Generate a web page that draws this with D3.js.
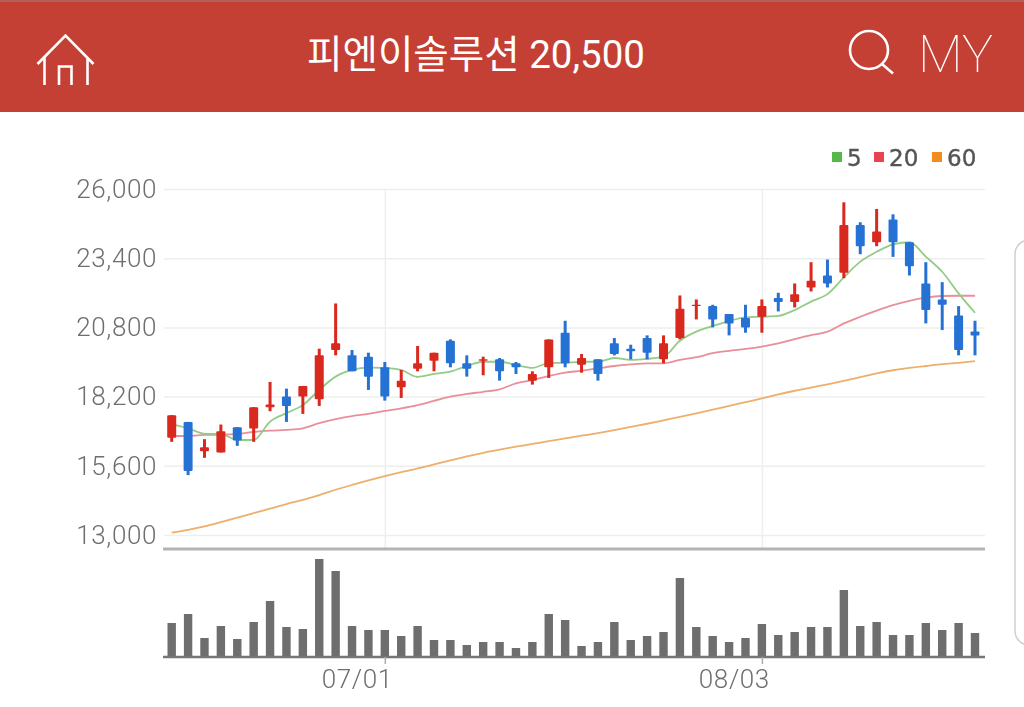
<!DOCTYPE html>
<html>
<head>
<meta charset="utf-8">
<title>피엔이솔루션 20,500</title>
<script src="https://cdn.jsdelivr.net/npm/d3@7"></script>
<style>
  html, body { margin: 0; padding: 0; background: #fff; overflow: hidden; }
  svg { display: block; filter: blur(0.4px); }
  .price text, .dates text { font-family: Roboto, sans-serif; font-weight: 300; font-size: 26px; letter-spacing: 0.6px; fill: #6e6e6e; }
</style>
</head>
<body>
<svg id="chart" width="1024" height="707"></svg>
<script>
var stockName = "피엔이솔루션";
var lastPrice = "20,500";

var dates = ["06/12","06/15","06/16","06/17","06/18","06/19","06/22","06/23","06/24","06/25",
  "06/26","06/29","06/30","07/01","07/02","07/03","07/06","07/07","07/08","07/09",
  "07/10","07/13","07/14","07/15","07/16","07/17","07/20","07/21","07/22","07/23",
  "07/24","07/27","07/28","07/29","07/30","07/31","08/03","08/04","08/05","08/06",
  "08/07","08/10","08/11","08/12","08/13","08/14","08/17","08/18","08/19","08/20"];

var open = [16650,17250,16150,16100,17050,17000,17800,18200,18200,18100,
  19950,19750,19700,19300,18550,19250,19550,20300,19450,19550,
  19600,19450,18800,19300,20600,19400,19600,20200,20000,20400,
  19600,20400,21600,21600,21300,21150,21200,21900,21750,22300,
  22750,22850,24650,24000,24850,24000,22450,21850,21250,20650];
var high = [17500,17250,16600,17150,17050,17800,18750,18500,18600,20000,
  21700,19950,19850,19500,19200,20100,19850,20350,19750,19700,
  19650,19500,19150,20350,21050,19800,19600,20400,20150,20500,
  20500,22000,21850,21650,21300,21650,21850,22100,22450,23250,
  23350,25500,24750,25250,25050,24000,23250,22500,21600,21050];
var low = [16500,15250,15900,16100,16350,16500,17650,17250,17550,17850,
  19750,19150,18450,18050,18150,19150,19150,19300,18950,19000,
  18800,19050,18650,18900,19300,19100,18800,19750,19600,19600,
  19450,20350,21100,20800,20500,20600,20600,21400,21550,22150,
  22300,22650,23550,23850,23450,22750,20950,20700,19750,19750];
var close = [17500,15400,16300,16900,16550,17800,17900,17850,18600,19750,
  20200,19150,18950,18200,18800,19450,19850,19450,19250,19600,
  19150,19300,19050,20350,19450,19650,19050,19800,19900,19850,
  20200,21500,21650,21100,20950,20800,21600,21750,22050,22550,
  22450,24650,23850,24400,24000,23100,21450,21650,19950,20500];

var ma5 = [17170,17010,16800,16790,16570,16570,17260,17580,17880,18450,
  18950,19200,19290,19280,19200,18940,19050,19140,19350,19510,
  19510,19390,19280,19460,19470,19510,19510,19650,19580,19620,
  19700,20300,20640,20850,21040,21180,21200,21230,21450,21770,
  22050,22680,23270,23640,23920,24000,23460,22890,22080,21350];
var ma20 = [16720,16720,16760,16770,16800,16870,16920,16950,17010,17200,
  17350,17470,17550,17660,17760,17880,18040,18200,18300,18380,
  18470,18700,18820,18970,19100,19170,19260,19350,19410,19450,
  19450,19580,19680,19830,19920,19990,20080,20200,20360,20510,
  20640,20950,21200,21430,21640,21800,21920,21980,21990,21990];
var ma60 = [13090,13190,13320,13480,13650,13820,13990,14160,14320,14500,
  14700,14880,15050,15210,15360,15500,15650,15800,15950,16090,
  16210,16320,16420,16530,16630,16730,16830,16940,17060,17180,
  17310,17440,17570,17710,17850,17990,18130,18280,18420,18540,
  18660,18790,18930,19070,19190,19280,19350,19420,19470,19530];

var volume = [34,43,19,31,18,35,56,30,28,98,
  86,31,27,27,21,31,17,17,12,15,
  15,9,15,43,37,11,15,35,17,21,
  25,79,30,21,15,19,33,22,25,30,
  30,67,31,35,22,22,34,27,34,24];

var priceTicks = [13000,15600,18200,20800,23400,26000];
var dateTicks = ["07/01","08/03"];
var legendNames = ["5","20","60"];
var legendColors = ["#55b848","#e8434f","#f28c1e"];
var lineColors = ["#93cc85","#e88f98","#eeae6c"];

var svg = d3.select("#chart");

// header bar
var header = svg.append("g");
header.append("rect").attr("width", 1024).attr("height", 112).attr("fill", "#c44035");
header.append("rect").attr("width", 1024).attr("height", 2).attr("fill", "#b0615a");
header.append("text")
  .attr("x", 476).attr("y", 68)
  .attr("text-anchor", "middle")
  .attr("fill", "#fff")
  .style("font-family", "Roboto, 'Noto Sans CJK KR', sans-serif")
  .style("font-size", "38.5px")
  .style("font-weight", 400)
  .text(stockName + " " + lastPrice);
header.append("text")
  .attr("x", 918).attr("y", 72)
  .attr("fill", "#fff")
  .style("font-family", "Roboto, sans-serif")
  .style("font-size", "52px")
  .style("font-weight", 100)
  .text("MY");

var icons = header.append("g").attr("fill", "none").attr("stroke", "#fff").attr("stroke-width", 2.6);
icons.append("path").attr("d", "M37.5 64L65.5 35.5L93.5 64M44.5 57V85M87.5 57V85M59 85V66.5H71.5V85");
icons.append("circle").attr("cx", 869).attr("cy", 50).attr("r", 19);
icons.append("path").attr("d", "M882 64L893 73.5");

// side panel edge
svg.append("rect")
  .attr("x", 1015).attr("y", 240).attr("width", 40).attr("height", 405).attr("rx", 14)
  .attr("fill", "none").attr("stroke", "#d0d0d0").attr("stroke-width", 1.5);

var x = d3.scalePoint().domain(dates).range([171.7, 975]);
var y = d3.scaleLinear().domain([13000, 26000]).range([535, 189]);
var yVol = d3.scaleLinear().domain([0, 100]).range([657, 557]);

// grid and price labels
var priceAxis = svg.append("g")
  .attr("class", "price")
  .attr("transform", "translate(164,0)")
  .call(d3.axisLeft(y).tickValues(priceTicks).tickFormat(d3.format(",")).tickSize(-821).tickPadding(7));
priceAxis.select(".domain").remove();
priceAxis.selectAll("line").attr("stroke", "#eeeeee").attr("stroke-width", 1.5);

var dateGrid = svg.append("g")
  .attr("transform", "translate(0,548)")
  .call(d3.axisBottom(x).tickValues(dateTicks).tickSize(-359).tickFormat(""));
dateGrid.select(".domain").remove();
dateGrid.selectAll("line").attr("stroke", "#eeeeee").attr("stroke-width", 1.5);

svg.append("line")
  .attr("x1", 163).attr("x2", 985).attr("y1", 549).attr("y2", 549)
  .attr("stroke", "#b4b4b4").attr("stroke-width", 3);

// moving averages sit behind the candles
var line = d3.line()
  .x(function(d, i) { return x(dates[i]); })
  .y(function(d) { return y(d); })
  .curve(d3.curveMonotoneX);

[ma60, ma20, ma5].forEach(function(series, i) {
  svg.append("path")
    .datum(series)
    .attr("d", line)
    .attr("fill", "none")
    .attr("stroke", lineColors[2 - i])
    .attr("stroke-width", 1.8);
});

// candles
var candles = svg.append("g").selectAll("g")
  .data(dates)
  .enter().append("g")
  .attr("fill", function(d, i) { return close[i] >= open[i] ? "#d9281e" : "#2672d4"; });

candles.append("rect")
  .attr("x", function(d) { return x(d) - 1.5; })
  .attr("width", 3)
  .attr("y", function(d, i) { return y(high[i]); })
  .attr("height", function(d, i) { return y(low[i]) - y(high[i]); });

candles.append("rect")
  .attr("x", function(d) { return x(d) - 4.5; })
  .attr("width", 9)
  .attr("rx", 1)
  .attr("y", function(d, i) { return y(Math.max(open[i], close[i])); })
  .attr("height", function(d, i) { return Math.abs(y(open[i]) - y(close[i])); });

// volume
svg.append("g").selectAll("rect")
  .data(volume)
  .enter().append("rect")
  .attr("x", function(d, i) { return x(dates[i]) - 4.2; })
  .attr("width", 8.4)
  .attr("y", function(d) { return yVol(d); })
  .attr("height", function(d) { return yVol(0) - yVol(d); })
  .attr("fill", "#6e6e6e");

svg.append("line")
  .attr("x1", 163).attr("x2", 985).attr("y1", 657).attr("y2", 657)
  .attr("stroke", "#767676").attr("stroke-width", 2.5);

var dateAxis = svg.append("g")
  .attr("class", "dates")
  .attr("transform", "translate(0,657)")
  .call(d3.axisBottom(x).tickValues(dateTicks).tickSize(7).tickPadding(6));
dateAxis.select(".domain").remove();
dateAxis.selectAll("line").attr("stroke", "#aaaaaa").attr("stroke-width", 1.5);
dateAxis.selectAll("text").attr("text-anchor", "end").attr("dx", 7.5);

// legend
var legend = svg.append("g");
var legendX = [832, 874, 932];
legendNames.forEach(function(name, i) {
  legend.append("rect")
    .attr("x", legendX[i]).attr("y", 152)
    .attr("width", 10).attr("height", 10)
    .attr("fill", legendColors[i]);
  legend.append("text")
    .attr("x", legendX[i] + 15).attr("y", 165.5)
    .attr("fill", "#555")
    .attr("stroke", "#555")
    .attr("stroke-width", 0.4)
    .style("font-family", "'DejaVu Sans', sans-serif")
    .style("font-size", "23px")
    .text(name);
});
</script>
</body>
</html>
